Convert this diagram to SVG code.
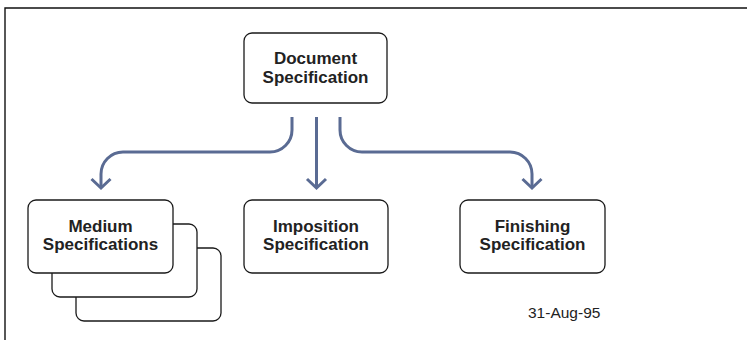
<svg xmlns="http://www.w3.org/2000/svg" width="747" height="340" viewBox="0 0 747 340">
<style>
.box{fill:#fff;stroke:#1a1a1a;stroke-width:1.3}
.lbl{font-family:"Liberation Sans",Arial,sans-serif;font-weight:bold;font-size:17px;fill:#222;text-anchor:middle}
.date{font-family:"Liberation Sans",Arial,sans-serif;font-size:15.5px;fill:#222}
.conn{fill:none;stroke:#5a6b93;stroke-width:3;marker-end:url(#chev)}
</style>
<defs>
<marker id="chev" markerUnits="userSpaceOnUse" orient="auto" refX="0" refY="0" markerWidth="20" markerHeight="20" overflow="visible">
<path d="M-9,-9.5 L0,0 L-9,9.5" fill="none" stroke="#5a6b93" stroke-width="3"/>
</marker>
</defs>
<rect width="747" height="340" fill="#fff"/>
<path d="M5,340 V8 H747" fill="none" stroke="#111" stroke-width="1.4"/>
<g id="connectors">
<path class="conn" d="M292,117 V130 A22,22 0 0 1 270,152 H123 A22,22 0 0 0 101,174 V188"/>
<path class="conn" d="M316.5,117 V188"/>
<path class="conn" d="M340,117 V130 A22,22 0 0 0 362,152 H510 A22,22 0 0 1 532,174 V188"/>
</g>
<g id="document">
<rect class="box" x="244" y="33" width="143" height="70" rx="8"/>
<text class="lbl" x="315.5" y="64">Document</text>
<text class="lbl" x="315.5" y="83">Specification</text>
</g>
<g id="medium">
<rect class="box" x="76" y="248" width="145" height="73" rx="8"/>
<rect class="box" x="52" y="224" width="145" height="73" rx="8"/>
<rect class="box" x="28" y="200" width="145" height="73" rx="8"/>
<text class="lbl" x="100.5" y="231.5">Medium</text>
<text class="lbl" x="100.5" y="250">Specifications</text>
</g>
<g id="imposition">
<rect class="box" x="244" y="200" width="144" height="73" rx="8"/>
<text class="lbl" x="316" y="231.5">Imposition</text>
<text class="lbl" x="316" y="250">Specification</text>
</g>
<g id="finishing">
<rect class="box" x="460" y="200" width="145" height="73" rx="8"/>
<text class="lbl" x="532.5" y="231.5">Finishing</text>
<text class="lbl" x="532.5" y="250">Specification</text>
</g>
<text class="date" x="528" y="318">31-Aug-95</text>
</svg>
